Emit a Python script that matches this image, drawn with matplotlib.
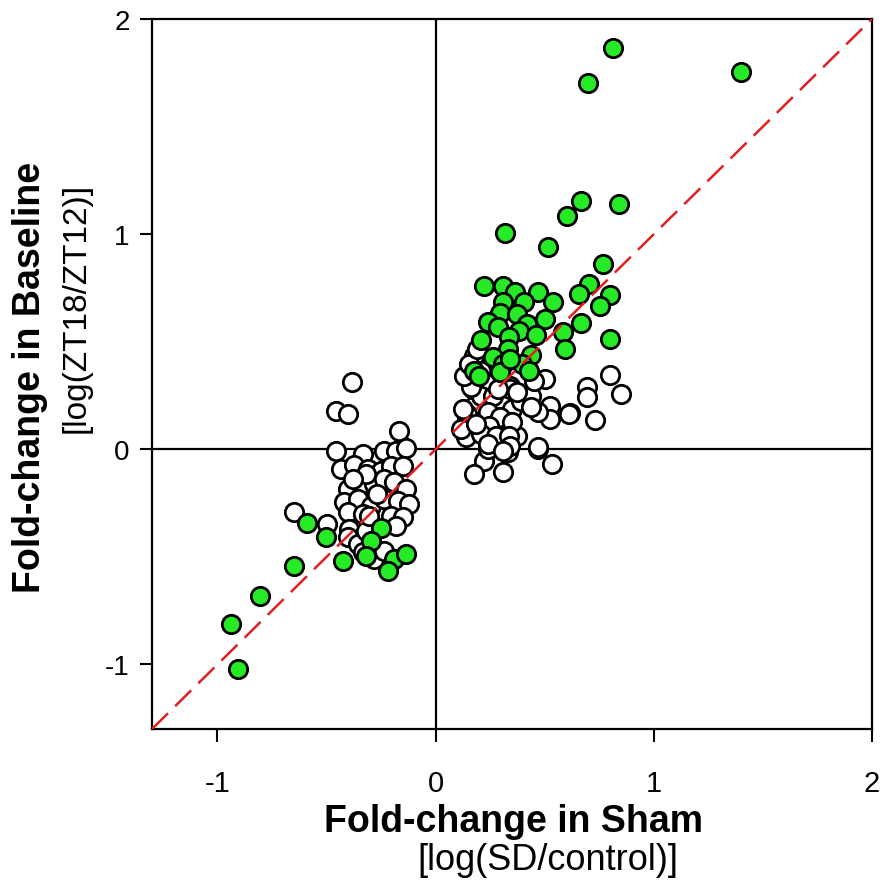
import numpy as np
import matplotlib
matplotlib.use("Agg")
import matplotlib.pyplot as plt

# fold-change values (log scale)
# genes not significantly different (open circles)
white_x = [0.801, 0.696, 0.696, 0.851, 0.618, 0.732, 0.503, 0.526, 0.526, 0.467,
           0.352, 0.389, 0.343, 0.265, 0.238, 0.137, 0.146, 0.174, 0.169, 0.206,
           0.265, 0.343, 0.435, 0.467, 0.535, 0.220, 0.174, 0.307, 0.330, 0.311,
           0.238, 0.375, 0.174, 0.160, 0.343, 0.435, 0.609, 0.146, 0.238, 0.297,
           0.352, 0.243, 0.206, 0.275, 0.334, 0.238, 0.343, 0.307, 0.467, 0.206,
           0.128, 0.449, 0.284, 0.375, 0.151, 0.188, 0.114, 0.124, 0.183,
           -0.384, -0.458, -0.403, -0.169, -0.458, -0.334, -0.238, -0.183, -0.137, -0.435,
           -0.375, -0.311, -0.252, -0.206, -0.151, -0.403, -0.343, -0.284, -0.238, -0.192,
           -0.137, -0.421, -0.357, -0.297, -0.238, -0.174, -0.124, -0.403, -0.334, -0.206,
           -0.151, -0.183, -0.650, -0.499, -0.398, -0.403, -0.357, -0.320, -0.334, -0.284,
           -0.238, -0.307, -0.270, -0.320, -0.380]
white_y = [0.344, 0.288, 0.242, 0.256, 0.167, 0.135, 0.326, 0.200, 0.140, 0.172,
           0.186, 0.223, 0.126, 0.149, 0.102, 0.056, 0.140, 0.200, 0.279, 0.247,
           0.247, 0.293, 0.247, 0.000, -0.070, -0.056, -0.116, -0.107, -0.014, 0.037,
           0.000, 0.060, 0.433, 0.288, 0.279, 0.195, 0.163, 0.163, 0.172, 0.149,
           0.126, 0.107, 0.070, 0.060, 0.060, 0.023, 0.014, -0.009, 0.009, 0.363,
           0.340, 0.316, 0.279, 0.265, 0.395, 0.465, 0.093, 0.186, 0.116,
           0.312, 0.177, 0.163, 0.084, -0.009, -0.023, -0.009, -0.009, 0.005, -0.093,
           -0.074, -0.093, -0.102, -0.079, -0.079, -0.186, -0.163, -0.163, -0.140, -0.153,
           -0.186, -0.247, -0.233, -0.265, -0.233, -0.242, -0.256, -0.293, -0.302, -0.312,
           -0.316, -0.358, -0.293, -0.349, -0.372, -0.409, -0.442, -0.381, -0.479, -0.512,
           -0.474, -0.312, -0.209, -0.116, -0.140]

# significant genes (green)
green_x = [0.815, 0.700, 1.400, 0.664, 0.842, 0.600, 0.517, 0.769, 0.705, 0.659,
           0.801, 0.755, 0.664, 0.801, 0.586, 0.595, 0.220, 0.311, 0.362, 0.467,
           0.540, 0.311, 0.403, 0.297, 0.371, 0.503, 0.238, 0.284, 0.421, 0.384,
           0.458, 0.206, 0.334, 0.330, 0.261, 0.307, 0.435, 0.398, 0.426, 0.174,
           0.201, 0.297, 0.343, 0.320,
           -0.590, -0.503, -0.252, -0.297, -0.320, -0.426, -0.650, -0.192, -0.137, -0.220,
           -0.805, -0.938, -0.906]
green_y = [1.865, 1.702, 1.753, 1.153, 1.140, 1.084, 0.940, 0.860, 0.767, 0.721,
           0.716, 0.665, 0.586, 0.512, 0.544, 0.465, 0.758, 0.758, 0.730, 0.730,
           0.684, 0.684, 0.684, 0.633, 0.628, 0.605, 0.591, 0.567, 0.581, 0.549,
           0.530, 0.507, 0.521, 0.465, 0.428, 0.395, 0.437, 0.395, 0.363, 0.363,
           0.340, 0.358, 0.419, 1.005,
           -0.344, -0.409, -0.367, -0.428, -0.498, -0.521, -0.544, -0.512, -0.488, -0.567,
           -0.684, -0.814, -1.019]

ticks = [-1, 0, 1, 2]
lim = (-1.3, 2.0)

plt.rcParams['font.family'] = ['Liberation Sans', 'DejaVu Sans']

fig = plt.figure(figsize=(8.82, 8.87), dpi=100)
ax = fig.add_axes([152/882, 1-730/887, 720/882, 710/887])

ax.axhline(0, color='black', lw=1.6, zorder=1)
ax.axvline(0, color='black', lw=1.6, zorder=1)
ax.plot(lim, lim, ls=(0, (9, 4)), color='#e02020', lw=1.8, zorder=4)

ax.scatter(white_x, white_y, s=175, facecolor='white', edgecolor='black',
           linewidths=2.0, zorder=2)
ax.scatter(green_x, green_y, s=175, facecolor='#26ea26', edgecolor='black',
           linewidths=2.0, zorder=3)

ax.set_xlim(lim)
ax.set_ylim(lim)
ax.set_xticks(ticks)
ax.set_yticks(ticks)
ax.set_xticklabels([str(t) for t in ticks], fontsize=21)
ax.set_yticklabels([str(t) for t in ticks], fontsize=20)
ax.tick_params(axis='x', direction='out', length=9, width=1.5, pad=20)
ax.tick_params(axis='y', direction='out', length=9, width=1.5, pad=7)
for s in ax.spines.values():
    s.set_linewidth(1.6)

# axis titles (two lines each, bold + plain)
fig.text(514/882, 1-822/887, 'Fold-change in Sham', fontsize=27, fontweight='bold',
         ha='center', va='center')
fig.text(548/882, 1-861/887, '[log(SD/control)]', fontsize=26,
         ha='center', va='center')
fig.text(30/882, 1-377/887, 'Fold-change in Baseline', fontsize=27, fontweight='bold',
         ha='center', va='center', rotation=90)
fig.text(76/882, 1-308/887, '[log(ZT18/ZT12)]', fontsize=24,
         ha='center', va='center', rotation=90)

fig.savefig('out.png', dpi=100, facecolor='white')
